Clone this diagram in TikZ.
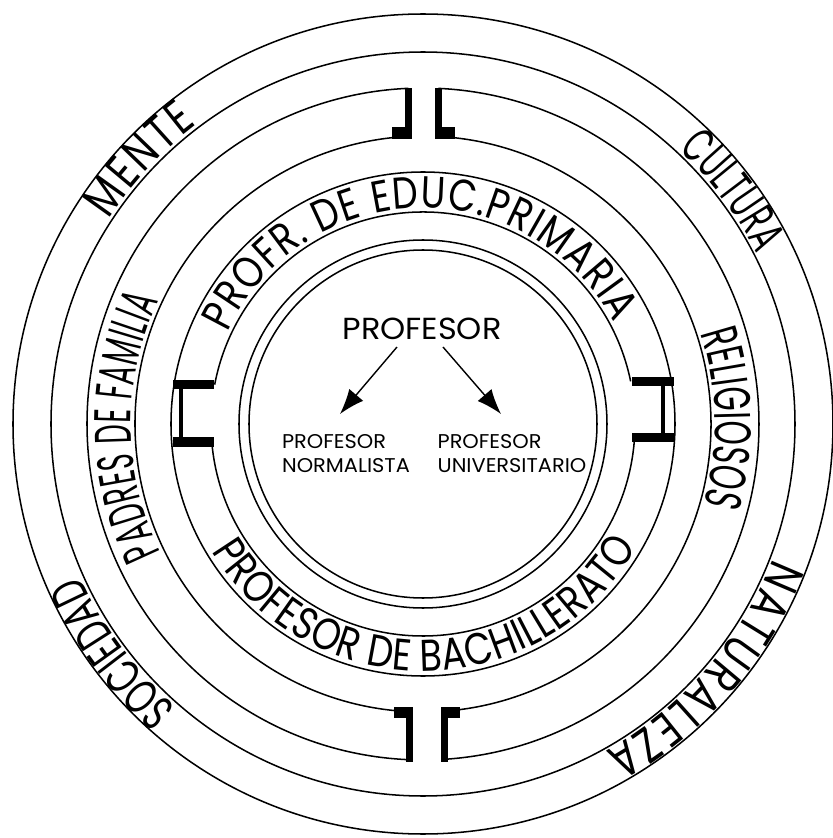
\documentclass[tikz,border=0pt]{standalone}
\usepackage{fontspec}
\setmainfont{Poppins}
\newfontfamily\famtight[FakeStretch=0.53]{Poppins}
\newfontfamily\famslim[FakeStretch=0.6]{Poppins}
\newfontfamily\famthin[FakeStretch=0.67]{Poppins}
\newfontfamily\famnarrow[FakeStretch=0.78]{Poppins}
\newfontfamily\famband[FakeStretch=0.82]{Poppins}
\newfontfamily\corefamily[FakeStretch=1.05]{Poppins}
\newcommand{\ringsize}{\fontsize{42}{42}\selectfont}
\newcommand{\doorsize}{\fontsize{44}{44}\selectfont}
\newcommand{\bandsize}{\fontsize{38}{38}\selectfont}
\newcommand{\corebig}{\fontsize{26}{30}\selectfont\corefamily}
\newcommand{\coresmall}{\fontsize{17}{20.5}\selectfont\corefamily}
\usetikzlibrary{arrows.meta, positioning, calc, decorations.text}

\begin{document}
\begin{tikzpicture}[
        x=0.03cm, y=0.03cm,
        ring/.style={line width=1.3pt},
        arrow/.style={
            -{Latex[length=0.75cm, width=0.55cm]},
            line width=1.2pt
        },
        curvetext/.style={
            decorate,
            decoration={text along path, text={#1}, text align=fit to path}
        }
    ]
    \useasboundingbox (-423,424) rectangle (409,-414);

    % Outer band
    \draw[ring] (0,0) circle (410);
    \draw[ring] (0,0) circle (372);

    % Band with doors at top and bottom
    \draw[ring] (92.5:336) arc[start angle=92.5, end angle=267.7, radius=336];
    \draw[ring] (273.7:336) arc[start angle=273.7, end angle=447.4, radius=336];
    \draw[ring] (96.2:288) arc[start angle=96.2, end angle=264.2, radius=288];
    \draw[ring] (277.4:288) arc[start angle=277.4, end angle=443.6, radius=288];

    % Doors
    \fill (-18,291) rectangle (-11,336);
    \fill (-31,285) rectangle (-11,297);
    \fill (12,291) rectangle (19,336);
    \fill (12,285) rectangle (32,297);
    \fill (-17,-338) rectangle (-10,-288);
    \fill (-29,-294) rectangle (-10,-283);
    \fill (18,-338) rectangle (25,-288);
    \fill (18,-294) rectangle (37,-283);

    % Band with side gates
    \draw[ring] (0,0) circle (252);
    \draw[ring] (11.6:212) arc[start angle=11.6, end angle=169.3, radius=212];
    \draw[ring] (184.9:212) arc[start angle=184.9, end angle=356.35, radius=212];

    % Gates
    \fill (-250,35) rectangle (-209,44);
    \fill (-250,-23) rectangle (-209,-13);
    \fill (-244,-18) rectangle (-240,40);
    \fill (209,38) rectangle (251,47);
    \fill (209,-18) rectangle (251,-9);
    \fill (238,-13) rectangle (242,42);

    % Inner circle
    \draw[ring] (0,0) circle (184);
    \draw[ring] (0,0) circle (174);

    % Ring labels
    \path[curvetext={|\ringsize\famnarrow|MENTE}] (147:375) arc[start angle=147, end angle=127, radius=375];
    \path[curvetext={|\ringsize\famslim|CULTURA}] (47:375) arc[start angle=47, end angle=27, radius=375];
    \path[curvetext={|\ringsize\famthin|SOCIEDAD}] (229:375) arc[start angle=229, end angle=204, radius=375];
    \path[curvetext={|\ringsize\famnarrow|NATURALEZA}] (-21:375) arc[start angle=-21, end angle=-61, radius=375];
    \path[curvetext={|\doorsize\famtight|PADRES DE FAMILIA}] (206:292) arc[start angle=206, end angle=155, radius=292];
    \path[curvetext={|\doorsize\famslim|RELIGIOSOS}] (18:292) arc[start angle=18, end angle=-16, radius=292];
    \path[curvetext={|\bandsize\famband|PROFR. DE EDUC.PRIMARIA}] (155:216) arc[start angle=155, end angle=28, radius=216];
    \path[curvetext={|\bandsize\famband|PROFESOR DE BACHILLERATO}] (211:247) arc[start angle=211, end angle=330, radius=247];

    % Centre
    \node[font=\corebig] (prof) at (-1,95) {PROFESOR};
    \node[font=\coresmall, align=left] (normal) at (-77,-30) {PROFESOR\\NORMALISTA};
    \node[font=\coresmall, align=left] (univ) at (89,-30) {PROFESOR\\UNIVERSITARIO};

    \draw[arrow] ($(prof)+(-25,-18)$) -- ($(normal)+(-6,40)$);
    \draw[arrow] ($(prof)+(21,-18)$) -- ($(univ)+(-11,40)$);

\end{tikzpicture}
\end{document}
